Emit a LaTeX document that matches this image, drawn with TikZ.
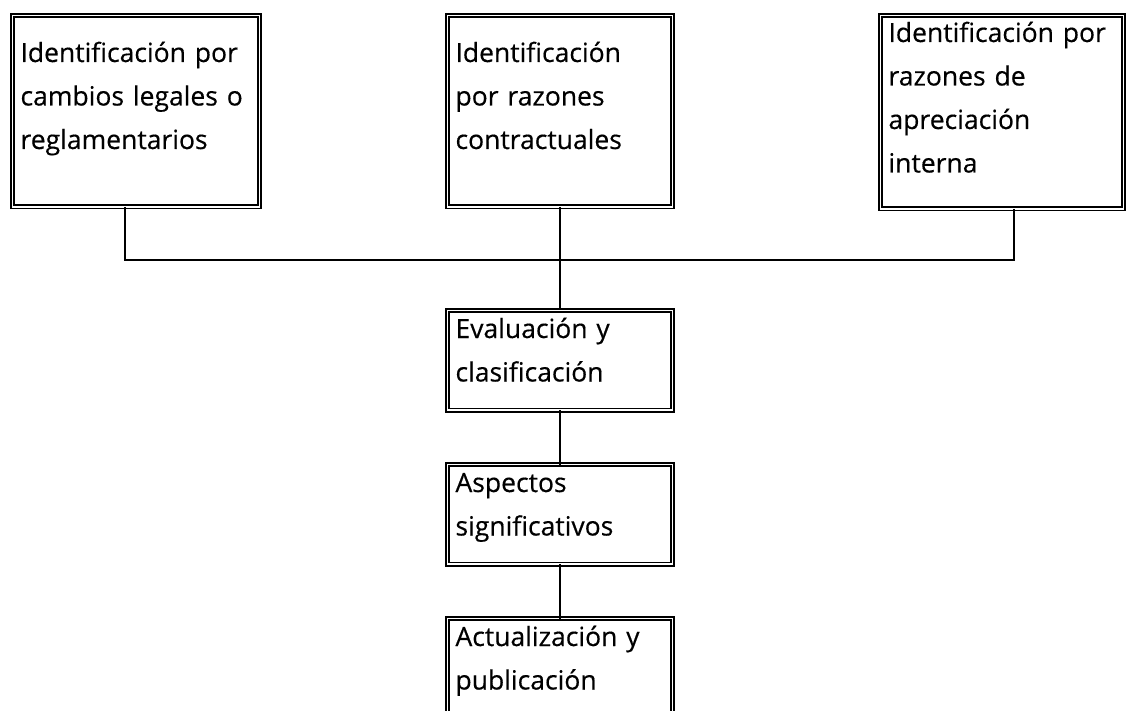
\documentclass[tikz,border=0pt]{standalone}
\usepackage{fontspec}
\newfontfamily\stagefont[FakeBold=0.4]{Open Sans}
\usetikzlibrary{calc}
\tikzset{
    stage/.style = {
        draw, double, rectangle, align=left,
        line width=1.7pt, double distance=1.6pt,
        anchor=north west,
        outer sep=0,
        inner xsep=8pt,
        inner ysep=0,
        font={\stagefont\fontsize{26.5}{43.5}\selectfont}
    },
    top3/.style = {text width=#1, text height=46.5pt, text depth=145pt},
    top4/.style = {text width=#1, text height=26.5pt, text depth=167pt},
    mid/.style  = {text width=209pt, text height=27.5pt, text depth=72pt},
    link/.style = {line width=1.4pt}
}

\begin{document}
\begin{tikzpicture}[x=1pt,y=-1pt]
\useasboundingbox (0,0) rectangle (1127,711);

% 1. source boxes
\node[stage,top3=231pt] (idLegal)    at (12.5,15.5)  {Identificación por\\ cambios legales o\\ reglamentarios};
\node[stage,top3=209pt] (idContract) at (447.5,15.5) {Identificación\\ por razones\\ contractuales};
\node[stage,top4=227pt] (idInternal) at (880.5,15.5) {Identificación por\\ razones de\\ apreciación\\ interna};

% 2. process chain
\node[stage,mid] (evalClass)  at (447.5,310.5) {Evaluación y\\ clasificación};
\node[stage,mid] (sigAspects) at (447.5,464.5) {Aspectos\\ significativos};
\node[stage,mid] (update)     at (447.5,618.5) {Actualización y\\ publicación};

% 3. connectors
\coordinate (bus) at (559,260);
\draw[link] ([xshift=-11pt]idLegal.south) |- (bus);
\draw[link] ([xshift=12pt]idInternal.south) |- (bus);
\draw[link] (idContract.south) -- (evalClass.north);
\draw[link] (evalClass.south) -- (sigAspects.north);
\draw[link] (sigAspects.south) -- (update.north);

\end{tikzpicture}
\end{document}
